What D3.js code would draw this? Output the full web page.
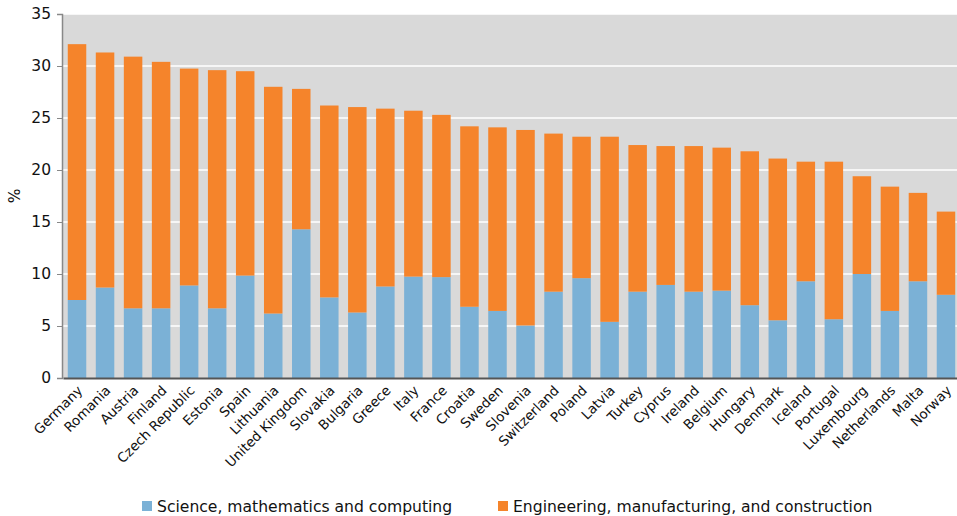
<!DOCTYPE html>
<html><head><meta charset="utf-8">
<script src="https://cdnjs.cloudflare.com/ajax/libs/d3/7.8.5/d3.min.js"></script>
<style>body{margin:0;background:#fff;} svg{display:block;font-family:"DejaVu Sans",sans-serif;}</style>
</head><body><svg id="c" width="957" height="516"></svg>
<script>
const countries = ["Germany","Romania","Austria","Finland","Czech Republic","Estonia","Spain","Lithuania","United Kingdom","Slovakia","Bulgaria","Greece","Italy","France","Croatia","Sweden","Slovenia","Switzerland","Poland","Latvia","Turkey","Cyprus","Ireland","Belgium","Hungary","Denmark","Iceland","Portugal","Luxembourg","Netherlands","Malta","Norway"];
const science = [7.5,8.7,6.7,6.7,8.9,6.7,9.85,6.2,14.3,7.75,6.3,8.8,9.75,9.7,6.85,6.45,5.05,8.3,9.6,5.4,8.3,8.95,8.3,8.4,7.0,5.55,9.3,5.65,10.0,6.45,9.3,8.0];
const engineering = [24.6,22.6,24.2,23.7,20.85,22.9,19.65,21.8,13.5,18.45,19.75,17.1,15.95,15.6,17.35,17.65,18.8,15.2,13.6,17.8,14.1,13.35,14.0,13.75,14.8,15.55,11.5,15.15,9.4,11.95,8.5,8.0];
const yTicks = [0,5,10,15,20,25,30,35];
const seriesNames = ["Science, mathematics and computing","Engineering, manufacturing, and construction"];
const colors = ["#7BB1D6","#F5842B"];

const svg = d3.select("#c");
const W = 957, H = 516;
const m = {left:62, top:14, bottom:138};
const x = d3.scaleBand().domain(countries).range([63, 960]).paddingInner(0.34).paddingOuter(0.17);
const y = d3.scaleLinear().domain([0,35]).range([H-m.bottom, m.top]);

svg.append("rect").attr("x",m.left).attr("y",m.top).attr("width",W-m.left).attr("height",y(0)-m.top).attr("fill","#D9D9D9");
svg.append("g").selectAll("line").data(yTicks.filter(d=>d>0)).join("line")
  .attr("x1",m.left).attr("x2",W).attr("y1",d=>y(d)).attr("y2",d=>y(d))
  .attr("stroke","#fff").attr("stroke-width",1.5);

const rows = countries.map((c,i)=>({c, s:science[i], e:engineering[i]}));
const stack = d3.stack().keys(["s","e"])(rows);
svg.append("g").selectAll("g").data(stack).join("g").attr("fill",(d,i)=>colors[i])
  .selectAll("rect").data(d=>d).join("rect")
  .attr("x",d=>x(d.data.c)).attr("width",x.bandwidth())
  .attr("y",d=>y(d[1])).attr("height",d=>y(d[0])-y(d[1]));

// axes
const ya = svg.append("g").attr("transform",`translate(${m.left},0)`)
  .call(d3.axisLeft(y).tickValues(yTicks).tickSize(5).tickPadding(6));
ya.select(".domain").attr("stroke","#888").attr("stroke-width",1.5);
ya.selectAll(".tick line").attr("stroke","#888");
ya.selectAll("text").attr("font-size",15.5).attr("fill","#111").attr("font-family","DejaVu Sans");

const xa = svg.append("g").attr("transform",`translate(0,${y(0)})`)
  .call(d3.axisBottom(x).tickSize(0).tickPadding(0));
xa.select(".domain").attr("stroke","#555").attr("stroke-width",2);
xa.selectAll("text").attr("font-size",13.5).attr("fill","#111").attr("font-family","DejaVu Sans")
  .attr("text-anchor","end").attr("dy",null)
  .attr("transform","translate(-1,6) rotate(-45)").attr("y",0).attr("dominant-baseline","hanging");

svg.append("text").attr("transform",`translate(20,${(y(0)+m.top)/2}) rotate(-90)`)
  .attr("text-anchor","middle").attr("font-size",15.5).attr("fill","#111").text("%");

// legend
const lg = [{x:142,t:seriesNames[0]},{x:498,t:seriesNames[1]}];
lg.forEach((d,i)=>{
  svg.append("rect").attr("x",d.x).attr("y",501).attr("width",10).attr("height",10).attr("fill",colors[i]);
  svg.append("text").attr("x",d.x+15).attr("y",512).attr("font-size",15.6).attr("fill","#111").text(d.t);
});
</script></body></html>
